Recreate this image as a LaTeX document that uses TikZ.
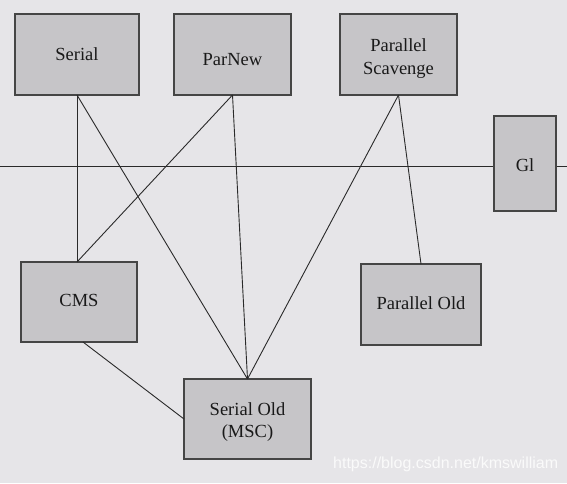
\documentclass[tikz,border=0pt]{standalone}
\usepackage{fontspec}
\setmainfont{Liberation Serif}
\newfontfamily\wmfont{Liberation Sans}
\definecolor{bgc}{HTML}{E6E5E8}
\definecolor{boxc}{HTML}{C6C5C8}
\definecolor{edgec}{HTML}{454545}
\definecolor{linec}{HTML}{2A2A2A}
% single line text, visual centre #1 pt below the box centre
\newcommand{\oneline}[2]{\raisebox{\dimexpr -#1pt - 6.1pt\relax}[0pt][0pt]{#2}}
% two line text, visual centre #1 pt below the box centre
\newcommand{\twoline}[3]{\raisebox{\dimexpr 5.15pt - #1pt\relax}[0pt][0pt]{\begin{tabular}[t]{@{}c@{}}#2\\#3\end{tabular}}}
\begin{document}
\begin{tikzpicture}[x=1pt,y=-1pt,
  gcbox/.style={draw=edgec, fill=boxc, line width=1.3pt, inner sep=0pt, outer sep=0pt,
    font=\fontsize{18.5}{22.5}\selectfont, text=black!90, align=center},
  conn/.style={draw=linec, line width=0.9pt}]
\fill[bgc] (0,0) rectangle (567,483);
\useasboundingbox (0,0) rectangle (567,483);
% horizontal divider
\coordinate (hl) at (0,166);
\coordinate (hr) at (567,166);
\draw[conn] (hl) -- (hr);
% boxes
\node[gcbox, minimum width=124pt, minimum height=81pt] (serial) at (77,54.5) {\oneline{0}{Serial}};
\node[gcbox, minimum width=117pt, minimum height=81pt] (parnew) at (232.5,54.5) {\oneline{5}{ParNew}};
\node[gcbox, minimum width=117pt, minimum height=81pt] (ps) at (398.5,54.5) {\twoline{2.5}{Parallel}{Scavenge}};
\node[gcbox, minimum width=62pt, minimum height=95pt] (g1) at (525,163.5) {\oneline{1.5}{Gl}};
\node[gcbox, minimum width=116pt, minimum height=80pt] (cms) at (79,302) {\oneline{-2}{CMS}};
\node[gcbox, minimum width=120pt, minimum height=81pt] (pold) at (421,304.5) {\oneline{-1.5}{Parallel Old}};
\node[gcbox, minimum width=127pt, minimum height=80pt] (sold) at (247.5,419) {\twoline{1.3}{Serial Old}{(MSC)}};
% connectors
\draw[conn] (serial.south) -- (serial.south |- cms.north);
\draw[conn] (serial.south) -- (sold.north);
\draw[conn] (parnew.south) -- (serial.south |- cms.north);
\draw[conn] (parnew.south) -- (sold.north);
\draw[conn] (ps.south) -- (sold.north);
\draw[conn] (ps.south) -- (pold.north);
\draw[conn] ([xshift=4pt]cms.south) -- (sold.west);
% watermark
\node[font=\wmfont\fontsize{16}{18}\selectfont, text=white!96!gray, anchor=west, inner sep=0pt] (wm) at (333,464) {https://blog.csdn.net/kmswilliam};
\end{tikzpicture}
\end{document}
